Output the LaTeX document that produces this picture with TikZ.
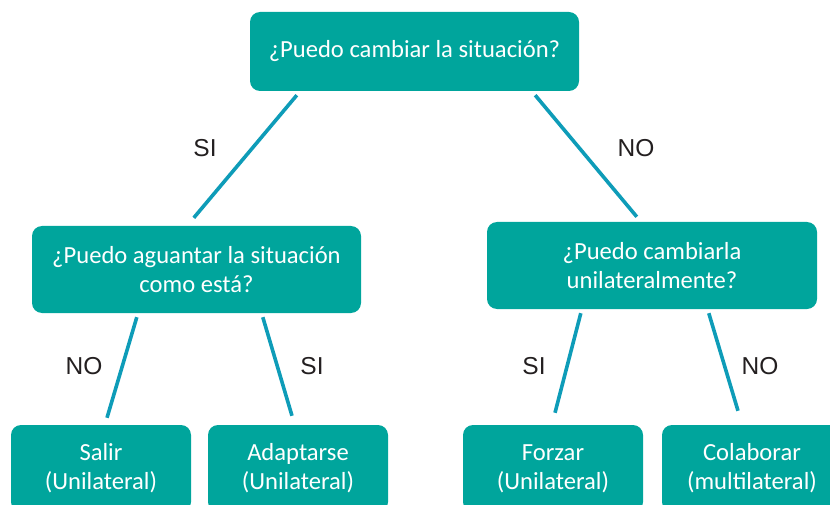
\documentclass[tikz,border=0pt]{standalone}
\usepackage{fontspec}
\setmainfont{Carlito}
\newfontfamily\labelfont{Liberation Sans}
\definecolor{boxteal}{HTML}{00A59C}
\definecolor{linkblue}{HTML}{0E9CB8}
\definecolor{labelgray}{HTML}{231F20}
\begin{document}
\begin{tikzpicture}[x=1pt,y=-1pt,
		question/.style={draw=none,fill=boxteal,rounded corners=10pt,text=white,align=center,inner sep=0pt,minimum height=87pt,minimum width=329pt,font=\fontsize{24.6}{29}\selectfont},
		answer/.style={question,minimum width=180pt},
		link/.style={draw=linkblue,line width=3.6pt},
		choice/.style={text=labelgray,inner sep=0pt,font=\labelfont\fontsize{24.5}{28}\selectfont}]
		\useasboundingbox (0,0) rectangle (830,505);
		\clip (0,0) rectangle (830,505);
		% questions
		\node [question,minimum height=79pt] (top) at (414.5,51.5) {¿Puedo cambiar la situación?};
		\node [question] (aguantar) at (196.5,269.5) {¿Puedo aguantar la situación\\como está?};
		\node [question,minimum width=330pt] (unilat) at (652,265.5) {¿Puedo cambiarla\\unilateralmente?};
		% answers
		\node [answer] (salir) at (101,468.5) {Salir\\(Unilateral)};
		\node [answer] (adaptarse) at (298,468.5) {Adaptarse\\(Unilateral)};
		\node [answer] (forzar) at (553,468.5) {Forzar\\(Unilateral)};
		\node [answer] (colaborar) at (752,468.5) {Colaborar\\(multilateral)};
		% links
		\draw [link] ([xshift=47pt,yshift=-4pt]top.south west) -- ([xshift=162pt,yshift=8pt]aguantar.north west);
		\draw [link] ([xshift=-44pt,yshift=-4pt]top.south east) -- ([xshift=150pt,yshift=5pt]unilat.north west);
		\draw [link] ([xshift=105pt,yshift=-4pt]aguantar.south west) -- ([xshift=6pt,yshift=7pt]salir.north);
		\draw [link] ([xshift=231pt,yshift=-4pt]aguantar.south west) -- ([xshift=-6pt,yshift=9pt]adaptarse.north);
		\draw [link] ([xshift=94pt,yshift=-4pt]unilat.south west) -- ([xshift=2pt,yshift=12pt]forzar.north);
		\draw [link] ([xshift=222pt,yshift=-4pt]unilat.south west) -- ([xshift=-14pt,yshift=14pt]colaborar.north);
		% labels
		\node [choice] (si1) at (205,148) {SI};
		\node [choice] (no1) at (636,148) {NO};
		\node [choice] (no2) at (84,366) {NO};
		\node [choice] (si2) at (312,366) {SI};
		\node [choice] (si3) at (534,366) {SI};
		\node [choice] (no3) at (760,366) {NO};
	\end{tikzpicture}
\end{document}
